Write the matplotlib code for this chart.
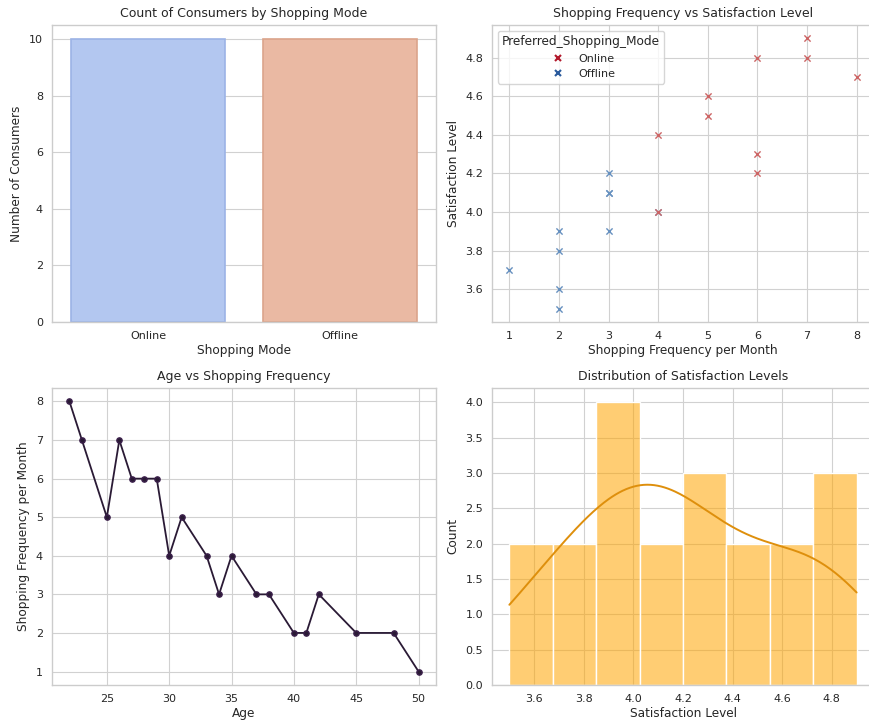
import matplotlib
matplotlib.use("Agg")
import matplotlib.pyplot as plt
from matplotlib.lines import Line2D
import seaborn as sns
import numpy as np

# consumer data (20 rows)
age = [22, 23, 25, 26, 27, 28, 29, 30, 31, 33, 34, 35, 37, 38, 40, 41, 42, 45, 48, 50]
freq = [8, 7, 5, 7, 6, 6, 6, 4, 5, 4, 3, 4, 3, 3, 2, 2, 3, 2, 2, 1]
satisfaction = [4.7, 4.9, 4.6, 4.8, 4.8, 4.3, 4.2, 4.4, 4.5, 4.0,
                4.2, 4.0, 4.1, 4.1, 3.9, 3.8, 3.9, 3.6, 3.5, 3.7]
mode = ["Online"] * 10 + ["Offline"] * 10

modes = ["Online", "Offline"]
mode_counts = [mode.count(m) for m in modes]
bar_colors = ["#b3c7f0", "#eab9a3"]
bar_edges = ["#9cb3e6", "#dba48b"]
legend_colors = {"Online": "#b2182b", "Offline": "#2a5a9c"}
point_colors = {"Online": "#cc6464", "Offline": "#6690bf"}

sns.set_style("whitegrid")
plt.rcParams["font.family"] = ["DejaVu Sans"]
plt.rcParams["axes.edgecolor"] = ".8"
plt.rcParams["grid.color"] = ".82"
plt.rcParams["grid.linewidth"] = 0.8

fig = plt.figure(figsize=(8.7, 7.23), dpi=100)
W, H = 870.0, 723.0
ax1 = fig.add_axes([52 / W, (H - 322) / H, 384 / W, 297 / H])
ax2 = fig.add_axes([492 / W, (H - 322) / H, 382 / W, 297 / H])
ax3 = fig.add_axes([52 / W, (H - 685) / H, 384 / W, 297 / H])
ax4 = fig.add_axes([492 / W, (H - 685) / H, 382 / W, 297 / H])

tfs, lfs, kfs = 9, 8.7, 8

# count plot
ax1.bar(modes, mode_counts, width=0.8, color=bar_colors, edgecolor=bar_edges, linewidth=1.2)
ax1.set_xlim(-0.5, 1.5)
ax1.set_title("Count of Consumers by Shopping Mode", fontsize=tfs)
ax1.set_xlabel("Shopping Mode", fontsize=lfs)
ax1.set_ylabel("Number of Consumers", fontsize=lfs)
ax1.grid(axis="x", visible=False)
ax1.set_axisbelow(True)

# scatter (offline first so online sits on top where they overlap)
for m in ["Offline", "Online"]:
    xs = [f for f, md in zip(freq, mode) if md == m]
    ys = [s for s, md in zip(satisfaction, mode) if md == m]
    ax2.scatter(xs, ys, marker="x", s=20, linewidths=1.0, color=point_colors[m], zorder=3)
ax2.set_xlim(0.65, 8.35)
ax2.set_ylim(3.43, 4.97)
ax2.set_yticks([3.6, 3.8, 4.0, 4.2, 4.4, 4.6, 4.8])
ax2.set_title("Shopping Frequency vs Satisfaction Level", fontsize=tfs)
ax2.set_xlabel("Shopping Frequency per Month", fontsize=lfs)
ax2.set_ylabel("Satisfaction Level", fontsize=lfs)
handles = [Line2D([], [], marker="x", linestyle="", color=legend_colors[m], markersize=5,
                  markeredgewidth=1.5) for m in modes]
leg = ax2.legend(handles, modes, title="Preferred_Shopping_Mode", loc="upper left",
                 fontsize=kfs, title_fontsize=lfs, frameon=True)
leg.get_frame().set_edgecolor(".8")

# line plot
ax3.plot(age, freq, color="#2a1a35", linewidth=1.3, marker="o", markersize=3.8,
         markeredgecolor="#3a1f4a")
ax3.set_xlim(20.6, 51.4)
ax3.set_ylim(0.65, 8.35)
ax3.set_title("Age vs Shopping Frequency", fontsize=tfs)
ax3.set_xlabel("Age", fontsize=lfs)
ax3.set_ylabel("Shopping Frequency per Month", fontsize=lfs)

# histogram with kde
sns.histplot(x=np.array(satisfaction), bins=8, kde=True, color="orange", alpha=0.55,
             edgecolor="white", linewidth=1, ax=ax4)
for ln in ax4.lines:
    ln.set_color("#de8f0c")
    ln.set_linewidth(1.4)
ax4.set_xlim(3.43, 4.97)
ax4.set_title("Distribution of Satisfaction Levels", fontsize=tfs)
ax4.set_xlabel("Satisfaction Level", fontsize=lfs)
ax4.set_ylabel("Count", fontsize=lfs)

for ax in (ax1, ax2, ax3, ax4):
    ax.tick_params(labelsize=kfs, pad=3)
    ax.xaxis.labelpad = 2
    ax.yaxis.labelpad = 4
    for sp in ax.spines.values():
        sp.set_linewidth(1.0)

fig.savefig("out.png", dpi=100)
